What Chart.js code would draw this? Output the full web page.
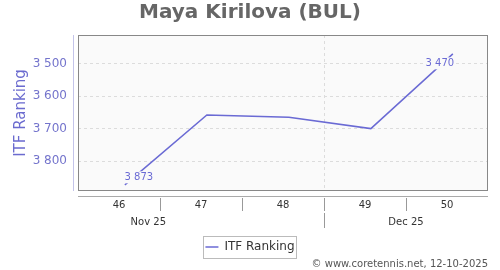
<!DOCTYPE html>
<html><head><meta charset="utf-8">
<script src="https://cdn.jsdelivr.net/npm/chart.js@4/dist/chart.umd.min.js"></script>
<style>html,body{margin:0;padding:0;background:#fff}#wrap{width:500px;height:270px;position:relative}</style>
</head><body><div id="wrap"><canvas id="c"></canvas></div>
<script>
// ---- data ----
const rangeStart = '2025-11-10';   // Monday of week 46
const rangeEnd = '2025-12-15';     // Monday after week 50
const pointDates = ['2025-11-14','2025-11-21','2025-11-28','2025-12-05','2025-12-12'];
const itfRanking = [3873, 3658, 3665, 3700, 3470];
const weekLabels = ['46','47','48','49','50'];
const weekStarts = ['2025-11-10','2025-11-17','2025-11-24','2025-12-01','2025-12-08'];
const monthLabels = ['Nov 25','Dec 25'];
const monthLabelDates = ['2025-11-16','2025-12-08'];
const monthStarts = ['2025-12-01'];
const yTicks = [3500, 3600, 3700, 3800];
const yMin = 3412, yMax = 3892;
const titleText = 'Maya Kirilova (BUL)';
const seriesName = 'ITF Ranking';
const credits = '\u00A9 www.coretennis.net, 12-10-2025';

// ---- helpers ----
const DAY = 86400000;
const t0 = Date.parse(rangeStart + 'T00:00:00Z');
const toDay = s => (Date.parse(s + 'T00:00:00Z') - t0) / DAY;
const fmt = v => String(v).replace(/\B(?=(\d{3})+(?!\d))/g, ' ');
const LINE = '#6a6ad4';
const TICK = '#7474cc';
const FONT = "'DejaVu Sans', Verdana, sans-serif";
Chart.defaults.font.family = FONT;

const extras = {
  id: 'extras',
  beforeDraw(chart) {
    const {ctx, chartArea: a} = chart;
    ctx.save();
    ctx.fillStyle = '#fafafa';
    ctx.fillRect(a.left, a.top, a.right - a.left, a.bottom - a.top);
    ctx.restore();
  },
  afterDatasetsDraw(chart) {
    const {ctx} = chart;
    const pts = chart.getDatasetMeta(0).data;
    const items = [
      {i: 0, dx: 14, dy: -7.5},
      {i: pts.length - 1, dx: -13, dy: 9.5}
    ];
    ctx.save();
    ctx.font = '10px ' + FONT;
    ctx.textAlign = 'center';
    ctx.textBaseline = 'middle';
    items.forEach(o => {
      const p = pts[o.i];
      const txt = fmt(itfRanking[o.i]);
      const w = ctx.measureText(txt).width;
      const cx = p.x + o.dx, cy = p.y + o.dy;
      ctx.fillStyle = '#fafafa';
      ctx.fillRect(cx - w / 2 - 1, cy - 6, w + 2, 12);
      ctx.fillStyle = LINE;
      ctx.fillText(txt, cx, cy);
    });
    ctx.restore();
  },
  afterDraw(chart) {
    const {ctx, chartArea: a} = chart;
    const xs = chart.scales.x;
    ctx.save();
    // plot border
    ctx.strokeStyle = '#888';
    ctx.lineWidth = 1;
    ctx.strokeRect(a.left + 0.5, a.top + 0.5, a.right - a.left - 1, a.bottom - a.top - 1);
    // y axis line
    ctx.strokeStyle = '#c4c4ea';
    ctx.beginPath(); ctx.moveTo(a.left - 4.5, a.top); ctx.lineTo(a.left - 4.5, a.bottom); ctx.stroke();
    // x axis line
    ctx.strokeStyle = '#aaa';
    ctx.beginPath(); ctx.moveTo(a.left, a.bottom + 5.5); ctx.lineTo(a.right, a.bottom + 5.5); ctx.stroke();
    // week separators
    ctx.strokeStyle = '#999';
    weekStarts.slice(1).forEach(d => {
      const x = Math.round(xs.getPixelForValue(toDay(d))) + 0.5;
      ctx.beginPath(); ctx.moveTo(x, a.bottom + 7); ctx.lineTo(x, a.bottom + 20); ctx.stroke();
    });
    monthStarts.forEach(d => {
      const x = Math.round(xs.getPixelForValue(toDay(d))) + 0.5;
      ctx.beginPath(); ctx.moveTo(x, a.bottom + 22); ctx.lineTo(x, a.bottom + 37); ctx.stroke();
    });
    // week labels
    ctx.fillStyle = '#333';
    ctx.font = '10px ' + FONT;
    ctx.textAlign = 'center';
    ctx.textBaseline = 'middle';
    weekStarts.forEach((d, i) => {
      ctx.fillText(weekLabels[i], xs.getPixelForValue(toDay(d) + 3.5), a.bottom + 14);
    });
    monthLabelDates.forEach((d, i) => {
      ctx.fillText(monthLabels[i], xs.getPixelForValue(toDay(d)), a.bottom + 31);
    });
    // legend border
    const lg = chart.legend;
    if (lg && lg.legendHitBoxes && lg.legendHitBoxes.length) {
      const hb = lg.legendHitBoxes[0];
      ctx.strokeStyle = '#bbb';
      ctx.strokeRect(Math.round(hb.left - 2) + 0.5, Math.round(hb.top - 5) + 0.5, Math.round(hb.width + 4), Math.round(hb.height + 10));
    }
    // credits
    ctx.fillStyle = '#555';
    ctx.font = '10px ' + FONT;
    ctx.textAlign = 'right';
    ctx.fillText(credits, 488, 264);
    ctx.restore();
  }
};

new Chart(document.getElementById('c'), {
  type: 'line',
  data: {
    datasets: [{
      label: seriesName,
      data: pointDates.map((d, i) => ({x: toDay(d), y: itfRanking[i]})),
      borderColor: LINE,
      backgroundColor: LINE,
      borderWidth: 1.5,
      pointRadius: 0,
      tension: 0
    }]
  },
  options: {
    responsive: true,
    maintainAspectRatio: false,
    animation: false,
    layout: {padding: {top: 0, right: 12, bottom: 7, left: 12}},
    plugins: {
      title: {
        display: true, text: titleText, color: '#666',
        font: {size: 20, weight: 'bold'}, padding: {top: 1, bottom: 10}
      },
      legend: {
        position: 'bottom',
        labels: {
          usePointStyle: true, pointStyle: 'line', pointStyleWidth: 13,
          padding: 6, color: '#333', font: {size: 12}
        }
      },
      tooltip: {enabled: false}
    },
    scales: {
      x: {
        type: 'linear',
        min: 0, max: toDay(rangeEnd),
        ticks: {display: false},
        grid: {color: '#dcdcdc', drawTicks: false},
        border: {display: false, dash: [3, 3]},
        afterBuildTicks: s => { s.ticks = monthStarts.map(d => ({value: toDay(d)})); },
        afterFit: s => { s.height = 44; }
      },
      y: {
        type: 'linear', reverse: true, min: yMin, max: yMax,
        afterBuildTicks: s => { s.ticks = yTicks.map(v => ({value: v})); },
        ticks: {color: TICK, font: {size: 12}, padding: 11, callback: v => fmt(v)},
        grid: {color: '#dcdcdc', drawTicks: false},
        border: {display: false, dash: [3, 3]},
        title: {display: true, text: seriesName, color: '#6b6bcf', font: {size: 15}, padding: {top: 0, bottom: 0}},
        afterFit: s => { s.width = 66; }
      }
    }
  },
  plugins: [extras]
});
</script>
</body></html>
